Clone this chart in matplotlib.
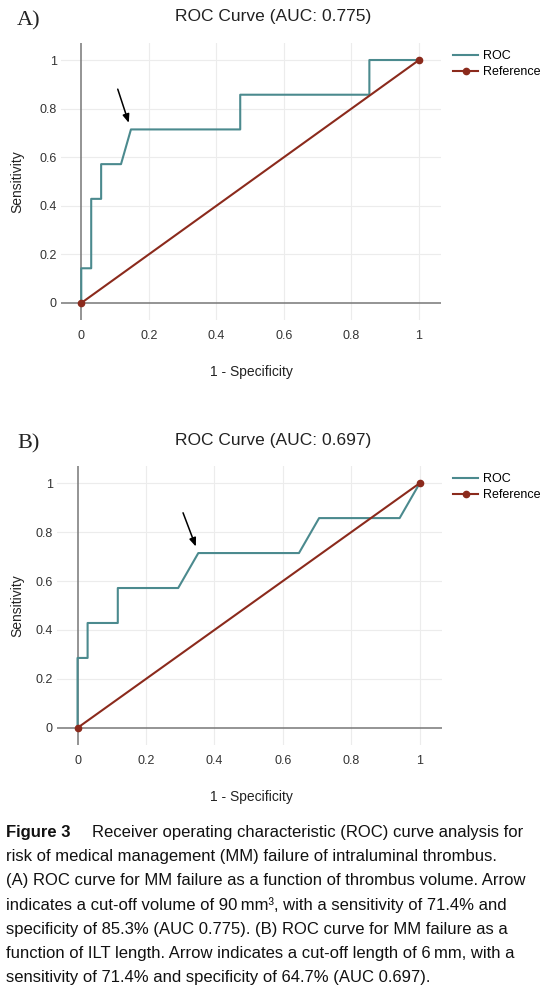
import matplotlib
matplotlib.use('Agg')

import matplotlib.pyplot as plt

plt.rcParams['font.family'] = ['Liberation Sans', 'DejaVu Sans']

# ---- data ----------------------------------------------------------
# panel A: ROC for thrombus volume (34 controls, 7 failures)
fpr_a = [0, 0, 1/34, 1/34, 2/34, 2/34, 4/34, 5/34, 16/34, 16/34, 29/34, 29/34, 1]
tpr_a = [0, 1/7, 1/7, 3/7, 3/7, 4/7, 4/7, 5/7, 5/7, 6/7, 6/7, 1, 1]
cut_a = (5/34, 5/7)
auc_a = 0.775

# panel B: ROC for ILT length
fpr_b = [0, 0, 1/34, 1/34, 4/34, 4/34, 10/34, 12/34, 22/34, 24/34, 32/34, 1]
tpr_b = [0, 2/7, 2/7, 3/7, 3/7, 4/7, 4/7, 5/7, 5/7, 6/7, 6/7, 1]
cut_b = (12/34, 5/7)
auc_b = 0.697

ref_x = [0, 1]
ref_y = [0, 1]
ticks = [0, 0.2, 0.4, 0.6, 0.8, 1]
tick_labels = ['0', '0.2', '0.4', '0.6', '0.8', '1']

caption_head = 'Figure 3'
caption = [
    'Receiver operating characteristic (ROC) curve analysis for',
    'risk of medical management (MM) failure of intraluminal thrombus.',
    '(A) ROC curve for MM failure as a function of thrombus volume. Arrow',
    'indicates a cut-off volume of 90\u2009mm\u00b3, with a sensitivity of 71.4% and',
    'specificity of 85.3% (AUC 0.775). (B) ROC curve for MM failure as a',
    'function of ILT length. Arrow indicates a cut-off length of 6\u2009mm, with a',
    'sensitivity of 71.4% and specificity of 64.7% (AUC 0.697).',
]
#---------------------------------------------------------------------

W, H = 545, 988
ROC_C = '#4b8a8e'
REF_C = '#8b2a1c'

fig = plt.figure(figsize=(W/100, H/100), dpi=100)


def box(x0, y0, x1, y1):
    return [x0/W, 1 - y1/H, (x1 - x0)/W, (y1 - y0)/H]


def fx(px):
    return px/W


def fy(py):
    return 1 - py/H


def roc_panel(ax, fpr, tpr, cut, auc, letter, top, bottom, tail):
    ax.set_xlim(-0.06, 1.065)
    ax.set_ylim(-0.07, 1.07)
    for s in ax.spines.values():
        s.set_visible(False)
    for t in ticks[1:]:
        ax.axhline(t, color='#ececec', lw=0.8, zorder=0)
        ax.axvline(t, color='#ececec', lw=0.8, zorder=0)
    ax.axhline(0, color='#777777', lw=1.1, zorder=1)
    ax.axvline(0, color='#777777', lw=1.1, zorder=1)

    ax.plot(fpr, tpr, color=ROC_C, lw=1.5, label='ROC', zorder=3)
    ax.plot(ref_x, ref_y, color=REF_C, lw=1.5, marker='o', ms=4.5,
            label='Reference', zorder=4, clip_on=False)

    ax.set_xticks(ticks)
    ax.set_xticklabels(tick_labels)
    ax.set_yticks(ticks)
    ax.set_yticklabels(tick_labels)
    ax.tick_params(length=0, labelsize=9, labelcolor='#333333')
    ax.tick_params(axis='x', pad=7)
    ax.tick_params(axis='y', pad=3)
    ax.set_xlabel('1 - Specificity', fontsize=10, color='#222222')
    ax.set_ylabel('Sensitivity', fontsize=10, color='#222222')
    ax.xaxis.set_label_coords(fx(251), fy(bottom + 52), transform=fig.transFigure)
    ax.yaxis.set_label_coords(fx(17), fy((top + bottom)/2), transform=fig.transFigure)
    ax.xaxis.label.set_va('center')
    ax.yaxis.label.set_va('center')

    ax.annotate('', xy=cut, xytext=tail, textcoords='offset points',
                arrowprops=dict(arrowstyle='-|>,head_length=0.5,head_width=0.2',
                                color='black', lw=1.1, shrinkA=0, shrinkB=5))

    ax.legend(loc='upper left', bbox_to_anchor=(fx(453), fy(top + 7)),
              bbox_transform=fig.transFigure, frameon=False, fontsize=9,
              handlelength=2.0, handletextpad=0.4, labelspacing=0.35,
              numpoints=1, borderaxespad=0, borderpad=0)

    fig.text(fx(273), fy(top - 26), 'ROC Curve (AUC: %.3f)' % auc,
             ha='center', va='center', fontsize=12.5, color='#222222')
    fig.text(fx(17), fy(top - 22), letter, ha='left', va='center',
             fontsize=16, family='Liberation Serif', color='#222222')


axA = fig.add_axes(box(61, 43, 441, 320))
roc_panel(axA, fpr_a, tpr_a, cut_a, auc_a, 'A)', 43, 320, (-9.5, 29))

axB = fig.add_axes(box(57, 466, 442, 745))
roc_panel(axB, fpr_b, tpr_b, cut_b, auc_b, 'B)', 466, 745, (-11, 29))

# caption
base = 837
fig.text(fx(6), fy(base), caption_head, ha='left', va='baseline',
         fontsize=12, fontweight='bold', color='#111111')
for i, line in enumerate(caption):
    x = 92 if i == 0 else 6
    fig.text(fx(x), fy(base + i*24.2), line, ha='left', va='baseline',
             fontsize=12, color='#111111')

fig.savefig('out.png', dpi=100)
